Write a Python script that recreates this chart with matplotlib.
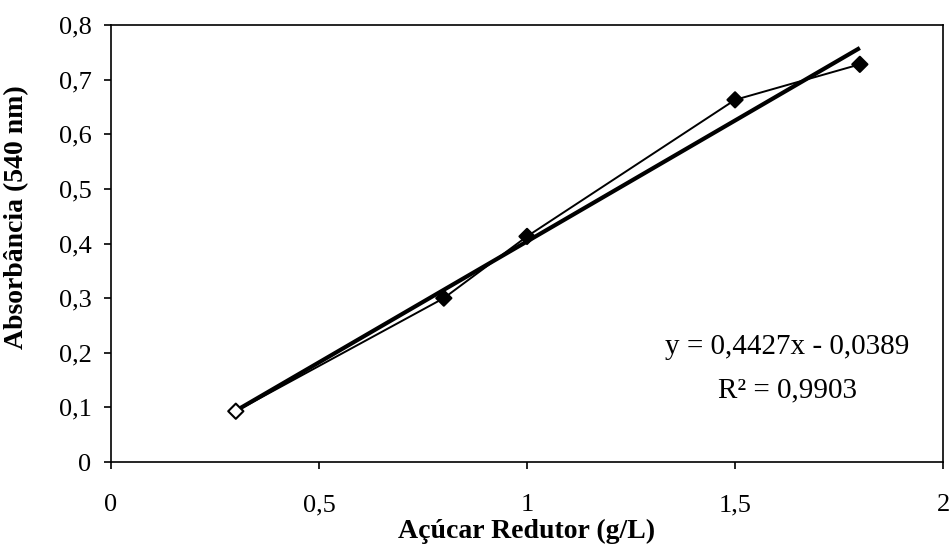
import matplotlib.pyplot as plt
import numpy as np

plt.rcParams['font.family'] = ['Liberation Serif', 'DejaVu Serif']

# dados da curva padrão
concentracao = [0.3, 0.8, 1.0, 1.5, 1.8]
absorbancia = [0.093, 0.300, 0.413, 0.663, 0.728]
coef_a = 0.4427
coef_b = -0.0389
x_ticks = [0, 0.5, 1, 1.5, 2]
x_labels = ['0', '0,5', '1', '1,5', '2']
y_ticks = [0, 0.1, 0.2, 0.3, 0.4, 0.5, 0.6, 0.7, 0.8]
y_labels = ['0', '0,1', '0,2', '0,3', '0,4', '0,5', '0,6', '0,7', '0,8']

fig = plt.figure(figsize=(9.52, 5.52), dpi=100)
ax = fig.add_axes([0.1166, 0.163, 0.874, 0.7917])

# reta de regressão
x_fit = np.array([concentracao[0], concentracao[-1]])
ax.plot(x_fit, coef_a * x_fit + coef_b, color='black', linewidth=3.0,
        solid_capstyle='butt', zorder=3)

# pontos experimentais
ax.plot(concentracao, absorbancia, color='black', linewidth=1.4, zorder=2)
faces = ['white'] + ['black'] * (len(concentracao) - 1)
ax.scatter(concentracao, absorbancia, marker='D', s=60, facecolors=faces,
           edgecolors='black', linewidths=1.5, zorder=4)

ax.set_xlim(0, 2)
ax.set_ylim(0, 0.8)
ax.set_xticks(x_ticks)
ax.set_xticklabels(x_labels)
ax.set_yticks(y_ticks)
ax.set_yticklabels(y_labels)
ax.tick_params(axis='both', direction='out', length=5, width=1.2, labelsize=19, colors='black')
ax.tick_params(axis='x', pad=18)
ax.tick_params(axis='y', pad=9)
for s in ax.spines.values():
    s.set_linewidth(1.2)

ax.set_xlabel('Açúcar Redutor (g/L)', fontsize=20, fontweight='bold', labelpad=2)
ax.set_ylabel('Absorbância (540 nm)', fontsize=20, fontweight='bold')
ax.yaxis.set_label_coords(-0.098, 0.56)

ax.text(0.8125, 0.263, 'y = 0,4427x - 0,0389', transform=ax.transAxes,
        ha='center', va='center', fontsize=21)
ax.text(0.8125, 0.165, 'R² = 0,9903', transform=ax.transAxes,
        ha='center', va='center', fontsize=21)

plt.savefig('out.png', dpi=100)
